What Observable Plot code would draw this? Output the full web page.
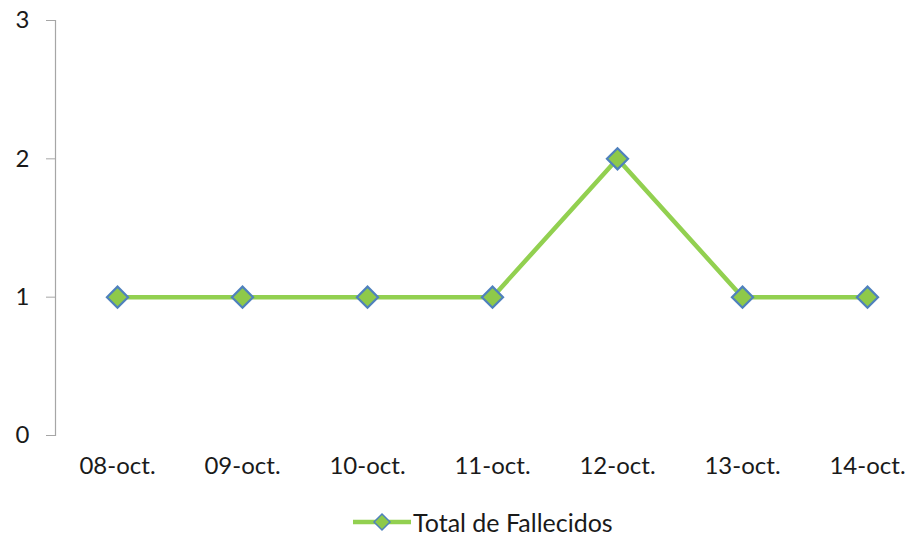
<!DOCTYPE html>
<html>
<head>
<meta charset="utf-8">
<script src="https://cdn.jsdelivr.net/npm/d3@7"></script>
<script src="https://cdn.jsdelivr.net/npm/@observablehq/plot@0.6"></script>
<style>
  html, body { margin: 0; padding: 0; background: #fff; overflow: hidden; }
  #chart { width: 907px; height: 536px; position: relative; overflow: hidden; font-family: Lato, "Open Sans", sans-serif; }
  #legend { position: absolute; left: 353px; top: 510px; height: 24px; display: flex; align-items: center; font-size: 25px; line-height: 1; color: #1a1a1a; }
  #legend svg { display: block; margin-right: 1px; }
  #legend span { line-height: 1; }
</style>
</head>
<body>
<div id="chart"></div>
<script>
const categories = ["08-oct.", "09-oct.", "10-oct.", "11-oct.", "12-oct.", "13-oct.", "14-oct."];
const fallecidos = [1, 1, 1, 1, 2, 1, 1];
const yTicks = [0, 1, 2, 3];
const seriesName = "Total de Fallecidos";

const lineColor = "#92d050";
const markerFill = "#8ec94a";
const markerStroke = "#4f81bd";

const data = categories.map((c, i) => ({ date: c, value: fallecidos[i] }));

const plot = Plot.plot({
  width: 907,
  height: 505,
  marginLeft: 55,
  marginRight: 0,
  marginTop: 20,
  marginBottom: 70,
  style: { fontFamily: "Lato, 'Open Sans', sans-serif", fontSize: "24px", color: "#1a1a1a", background: "#fff", overflow: "visible" },
  x: { type: "point", domain: categories, range: [117, 867], padding: 0, label: null },
  y: { domain: [0, 3], range: [435, 20], label: null },
  marks: [
    Plot.frame({ anchor: "left", stroke: "#a6a6a6", strokeWidth: 1.2 }),
    Plot.axisY(yTicks, { tickSize: 9, tickPadding: 17, tickFormat: "d", stroke: "#a6a6a6", fill: "#1a1a1a", fontSize: 24, label: null }),
    Plot.axisX({ tickSize: 0, tickPadding: 21, fill: "#1a1a1a", fontSize: 24, label: null }),
    Plot.line(data, { x: "date", y: "value", stroke: lineColor, strokeWidth: 4.5 }),
    Plot.dot(data, { x: "date", y: "value", symbol: "diamond2", r: 9.5, fill: markerFill, stroke: markerStroke, strokeWidth: 2.2 })
  ]
});

const chart = document.getElementById("chart");
chart.appendChild(plot);

const legend = document.createElement("div");
legend.id = "legend";
legend.innerHTML = `<svg width="59" height="24"><line x1="0" x2="58" y1="12" y2="12" stroke="${lineColor}" stroke-width="4.5"/><path d="M29,4 L37,12 L29,20 L21,12 Z" fill="${markerFill}" stroke="${markerStroke}" stroke-width="1.5"/></svg><span>${seriesName}</span>`;
chart.appendChild(legend);
</script>
</body>
</html>
